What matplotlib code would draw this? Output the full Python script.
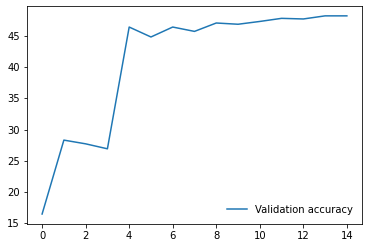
from matplotlib import pyplot as plt

epochs = list(range(15))
val_acc = [16.4, 28.3, 27.7, 26.9, 46.5, 44.9, 46.5, 45.8, 47.15, 46.95,
           47.4, 47.9, 47.8, 48.3, 48.3]

fig = plt.figure(figsize=(368 / 72, 248 / 72), dpi=72)
ax = fig.add_axes([0.073, 0.097, 0.911, 0.879])

ax.plot(epochs, val_acc, color='#1f77b4', label='Validation accuracy')
ax.legend(loc='lower right', frameon=False)

fig.savefig('out.png', dpi=72)
